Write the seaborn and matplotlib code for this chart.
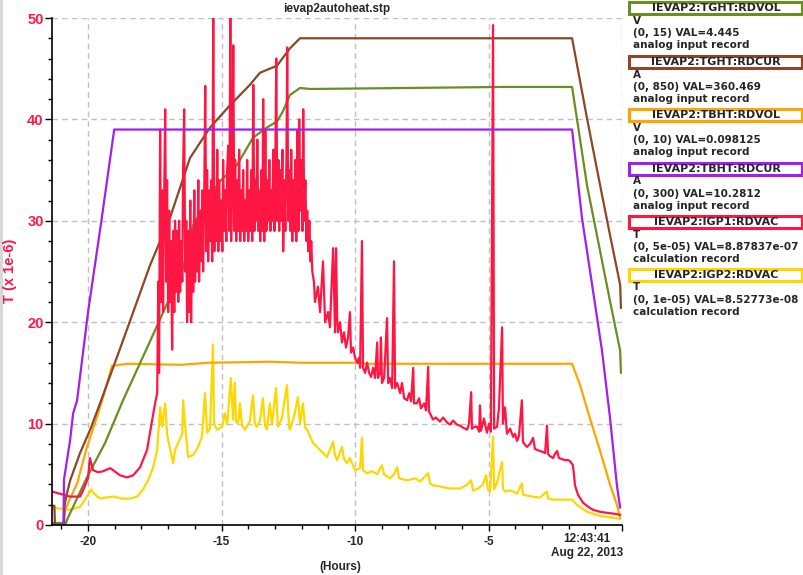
import numpy as np
import pandas as pd
import matplotlib
matplotlib.use("Agg")
import matplotlib.pyplot as plt
import seaborn as sns
from matplotlib.patches import Rectangle
from matplotlib.ticker import MultipleLocator

# all traces are drawn on the T (x 1e-6) axis, i.e. each one scaled to its own range -> 0..50
# time in hours before 12:43:41

tght_vol_t = [-21.35, -20.82, -20.79, -20.04, -19.36, -18.69, -17.68, -16.44, -16.06, -15.43,
              -15.06, -14.42, -13.82, -13.30, -12.92, -12.70, -12.44, -12.06, -11.69, -8.0,
              -4.5, -1.87, -1.31, -0.82, -0.45, -0.07, -0.04]
tght_vol_v = [0.2, 0.2, 0.5, 4.7, 8.1, 12.3, 18.1, 25.3, 29.6, 32.5,
              33.9, 35.5, 38.2, 39.2, 39.8, 40.8, 42.4, 43.1, 43.0, 43.1,
              43.2, 43.2, 33.5, 27.0, 22.1, 17.2, 15.0]

tght_cur_t = [-21.35, -21.26, -21.24, -20.90, -20.88, -20.82, -20.67, -20.30, -19.92, -19.55,
              -18.80, -17.68, -16.93, -16.18, -15.43, -14.68, -13.94, -13.56, -12.92, -12.44,
              -12.06, -1.87, -1.31, -0.82, -0.45, -0.07, -0.04]
tght_cur_v = [1.9, 1.9, 0.0, 0.0, 1.9, 2.8, 4.4, 7.1, 9.4, 12.0,
              17.4, 25.6, 30.3, 36.2, 39.2, 41.4, 43.4, 44.6, 45.3, 47.0,
              48.0, 48.0, 40.1, 33.5, 28.6, 23.7, 21.4]

tbht_vol_t = [-21.35, -20.94, -20.86, -20.41, -20.04, -19.66, -19.47, -19.10, -18.5, -16.5,
              -15.5, -13.2, -12.0, -10.0, -9.6, -1.87, -1.57, -1.20, -0.82, -0.45,
              -0.19, -0.07]
tbht_vol_v = [0.0, 0.0, 1.5, 4.1, 7.7, 10.7, 12.3, 15.7, 15.9, 15.8,
              16.0, 16.1, 16.0, 16.0, 15.9, 15.9, 13.8, 10.5, 7.3, 4.0,
              2.0, 0.7]

tbht_cur_t = [-21.35, -20.92, -20.90, -20.67, -20.56, -20.41, -20.0, -19.5, -19.02, -1.87,
              -1.50, -1.12, -0.75, -0.45, -0.19, -0.07]
tbht_cur_v = [0.0, 0.0, 4.5, 8.4, 11.0, 12.3, 21.0, 30.0, 39.0, 39.0,
              30.3, 23.7, 17.2, 10.6, 3.9, 1.7]

igp1_t = [-21.35, -20.94, -20.67, -20.30, -20.19, -20.00, -19.93, -19.81, -19.62, -19.44,
          -19.17, -19.06, -18.80, -18.54, -18.31, -18.05, -17.79, -17.68, -17.56, -17.49,
          -17.41, -17.37, -17.34, -17.30, -17.26, -17.22, -17.19, -17.15, -17.11, -17.07,
          -17.04, -17.00, -16.96, -16.92, -16.89, -16.85, -16.81, -16.77, -16.74, -16.70,
          -16.66, -16.62, -16.59, -16.55, -16.51, -16.47, -16.44, -16.40, -16.36, -16.32,
          -16.29, -16.25, -16.21, -16.17, -16.14, -16.10, -16.06, -16.02, -15.99, -15.95,
          -15.91, -15.87, -15.84, -15.80, -15.76, -15.72, -15.69, -15.65, -15.61, -15.57,
          -15.54, -15.50, -15.46, -15.42, -15.39, -15.35, -15.31, -15.27, -15.24, -15.20,
          -15.16, -15.12, -15.09, -15.05, -15.01, -14.97, -14.94, -14.90, -14.86, -14.82,
          -14.79, -14.75, -14.71, -14.67, -14.64, -14.60, -14.56, -14.52, -14.49, -14.45,
          -14.41, -14.37, -14.34, -14.30, -14.26, -14.22, -14.19, -14.15, -14.11, -14.07,
          -14.04, -14.00, -13.96, -13.92, -13.89, -13.85, -13.81, -13.77, -13.74, -13.70,
          -13.66, -13.62, -13.59, -13.55, -13.51, -13.47, -13.44, -13.40, -13.36, -13.32,
          -13.29, -13.25, -13.21, -13.17, -13.14, -13.10, -13.06, -13.02, -12.99, -12.95,
          -12.91, -12.87, -12.84, -12.80, -12.76, -12.72, -12.69, -12.65, -12.61, -12.57,
          -12.54, -12.50, -12.46, -12.42, -12.39, -12.35, -12.31, -12.27, -12.24, -12.20,
          -12.16, -12.12, -12.09, -12.05, -12.01, -11.97, -11.94, -11.90, -11.86, -11.82,
          -11.79, -11.75, -11.71, -11.67, -11.64, -11.60,
          -11.54, -11.50, -11.39, -11.31, -11.20, -11.12, -11.01, -10.94, -10.82,
          -10.75, -10.71, -10.67, -10.64, -10.56, -10.49, -10.41, -10.34, -10.26, -10.19,
          -10.15, -10.07, -10.00, -9.92, -9.85, -9.81, -9.74, -9.70, -9.62, -9.55,
          -9.47, -9.40, -9.32, -9.25, -9.17, -9.14, -9.06, -9.03, -8.99, -8.91,
          -8.80, -8.76, -8.69, -8.61, -8.54, -8.50, -8.42, -8.31, -8.24, -8.16,
          -8.05, -7.97, -7.90, -7.82, -7.79, -7.68, -7.60, -7.53, -7.41, -7.34,
          -7.26, -7.23, -7.15, -7.08, -6.97, -6.82, -6.70, -6.55, -6.44, -6.33,
          -6.18, -6.07, -5.95, -5.80, -5.73, -5.65, -5.62, -5.50, -5.43, -5.35,
          -5.32, -5.28, -5.17, -5.06, -4.98, -4.91, -4.83, -4.79, -4.68, -4.61,
          -4.49, -4.46, -4.38, -4.31, -4.19, -4.08, -4.01, -3.93, -3.86, -3.75,
          -3.71, -3.63, -3.56, -3.44, -3.33, -3.26, -3.18, -3.07, -2.96, -2.88,
          -2.81, -2.77, -2.70, -2.58, -2.51, -2.43, -2.36, -2.25, -2.13, -2.02,
          -1.95, -1.84, -1.80, -1.76, -1.65, -1.46, -1.27, -1.09, -0.82, -0.56,
          -0.26, -0.07]
igp1_v = [3.3, 3.0, 2.8, 2.8, 3.4, 4.6, 6.6, 5.4, 5.2, 5.3,
          5.6, 5.4, 4.9, 4.7, 4.9, 5.7, 7.4, 9.1, 11.0, 12.0,
          13.0, 24.0, 15.0, 39.0, 22.0, 33.0, 21.0, 32.0, 41.0, 24.0,
          34.0, 21.0, 31.0, 22.0, 28.0, 17.3, 29.0, 21.0, 30.0, 23.0,
          29.0, 22.0, 30.0, 23.0, 28.0, 24.0, 35.0, 41.0, 25.0, 30.0,
          20.0, 29.0, 21.0, 32.0, 20.0, 29.0, 23.0, 33.0, 24.0, 30.0,
          25.0, 34.0, 24.0, 31.0, 26.0, 33.0, 25.0, 32.0, 43.3, 27.0,
          35.0, 26.0, 33.0, 28.0, 34.0, 26.0, 50.0, 27.0, 33.0, 28.0,
          37.0, 27.0, 34.0, 28.0, 32.0, 27.0, 36.0, 29.0, 33.0, 28.0,
          35.0, 37.4, 29.0, 50.0, 28.0, 34.0, 47.3, 29.0, 36.0, 28.0,
          34.0, 29.0, 37.0, 28.0, 33.0, 29.0, 35.0, 28.0, 32.0, 29.0,
          36.0, 28.0, 33.0, 29.0, 35.0, 28.0, 43.4, 29.0, 34.0, 30.0,
          38.0, 29.0, 33.0, 28.0, 35.0, 29.0, 42.0, 28.0, 38.9, 29.0,
          34.0, 30.0, 36.0, 29.0, 33.0, 30.0, 37.0, 29.0, 34.0, 46.0,
          30.0, 36.0, 29.0, 35.0, 30.0, 37.0, 27.0, 34.0, 29.0, 36.0,
          47.1, 30.0, 35.0, 29.0, 37.0, 28.0, 34.0, 29.0, 36.0, 28.0,
          38.9, 29.0, 40.0, 31.0, 36.0, 29.0, 41.0, 30.0, 34.0, 28.0,
          31.0, 27.0, 30.0, 26.0, 28.0, 25.0,
          24.0, 22.0, 23.5, 21.0, 26.0, 20.0, 21.0, 19.5, 27.3,
          19.0, 27.3, 20.5, 19.0, 20.0, 18.0, 19.0, 17.5, 18.5, 21.0,
          17.0, 17.5, 16.5, 16.0, 16.5, 15.5, 28.0, 15.5, 15.0, 16.0,
          15.0, 14.6, 15.5, 14.5, 18.0, 14.5, 15.0, 18.5, 14.0, 14.5,
          20.4, 14.0, 14.5, 13.5, 26.0, 13.5, 14.0, 13.0, 14.0, 12.5,
          12.3, 13.0, 12.2, 15.5, 12.0, 12.0, 12.5, 11.5, 12.0, 11.3,
          15.6, 11.2, 10.8, 10.4, 10.6, 10.2, 10.6, 10.1, 9.9, 10.3,
          9.9, 9.8, 9.6, 9.4, 10.0, 13.1, 9.5, 9.7, 9.7, 9.2,
          11.8, 9.3, 10.5, 9.1, 10.0, 9.2, 49.3, 9.5, 9.7, 11.5,
          19.5, 10.0, 11.6, 9.0, 9.5, 8.7, 9.0, 8.3, 8.8, 12.3,
          8.2, 7.9, 7.7, 8.0, 8.6, 7.5, 7.4, 7.3, 7.2, 7.1,
          9.8, 7.0, 6.8, 6.6, 7.0, 7.3, 6.6, 6.5, 6.4, 6.4,
          6.3, 5.9, 5.0, 3.9, 3.0, 2.2, 1.8, 1.5, 1.3, 1.2,
          1.1, 1.0]

igp2_t = [-21.35, -20.67, -20.30, -20.19, -20.00, -19.89, -19.74, -19.55, -19.36, -19.06,
          -18.73, -18.43, -18.16, -17.94, -17.75, -17.56, -17.41, -17.30, -17.23, -17.11,
          -17.04, -17.00, -16.81, -16.74, -16.62, -16.47, -16.44, -16.36, -16.25, -16.06,
          -15.88, -15.73, -15.62, -15.54, -15.43, -15.32, -15.28, -15.17, -14.98, -14.87,
          -14.79, -14.65, -14.57, -14.50, -14.46, -14.38, -14.31, -14.23, -14.12, -13.94,
          -13.82, -13.75, -13.67, -13.56, -13.45, -13.37, -13.30, -13.19, -13.11, -12.96,
          -12.89, -12.74, -12.55, -12.47, -12.44, -12.29, -12.14, -12.06, -11.95, -11.87,
          -11.80, -11.57, -11.31, -11.05, -10.82, -10.75, -10.67, -10.49, -10.41, -10.30,
          -10.19, -10.00, -9.81, -9.74, -9.70, -9.55, -9.36, -9.17, -9.06, -8.99,
          -8.91, -8.69, -8.54, -8.42, -8.35, -8.05, -7.75, -7.56, -7.26, -7.19,
          -7.08, -6.82, -6.44, -6.07, -5.84, -5.65, -5.58, -5.39, -5.21, -5.09,
          -5.02, -4.94, -4.83, -4.79, -4.68, -4.57, -4.49, -4.46, -4.38, -4.19,
          -4.08, -3.93, -3.75, -3.71, -3.56, -3.33, -3.07, -2.81, -2.77, -2.58,
          -2.32, -1.87, -1.69, -1.31, -0.82, -0.07]
igp2_v = [1.7, 1.5, 1.8, 2.2, 3.0, 3.5, 3.0, 2.6, 2.7, 2.8,
          2.6, 2.6, 2.8, 3.5, 4.4, 5.7, 7.4, 11.6, 9.7, 12.0,
          9.0, 8.4, 6.1, 7.4, 8.1, 9.0, 12.3, 9.7, 6.7, 6.9,
          7.7, 8.7, 13.0, 9.1, 9.5, 17.8, 10.0, 9.4, 9.7, 11.0,
          9.9, 14.5, 10.4, 14.0, 10.2, 10.0, 12.0, 9.8, 9.4, 10.2,
          12.8, 9.9, 9.7, 10.3, 12.5, 9.8, 9.4, 12.0, 9.9, 13.5,
          9.7, 10.5, 13.8, 9.6, 9.4, 10.6, 12.6, 10.0, 12.0, 9.6,
          9.4, 8.1, 7.4, 6.7, 8.2, 6.9, 6.4, 7.7, 6.5, 6.1,
          6.6, 5.4, 5.6, 8.6, 5.4, 5.1, 5.3, 5.0, 5.6, 5.9,
          5.0, 4.6, 5.0, 5.7, 4.6, 4.4, 4.6, 4.3, 5.1, 4.1,
          3.9, 3.8, 3.6, 3.6, 3.9, 4.4, 3.4, 3.6, 4.0, 4.9,
          3.5, 3.3, 8.7, 3.5, 4.2, 5.4, 6.2, 3.6, 3.3, 3.4,
          3.3, 3.1, 4.1, 3.0, 2.9, 2.8, 2.7, 3.3, 2.6, 2.5,
          2.5, 2.5, 2.0, 1.3, 0.9, 0.6]

pv_names = ["IEVAP2:TGHT:RDVOL", "IEVAP2:TGHT:RDCUR", "IEVAP2:TBHT:RDVOL",
            "IEVAP2:TBHT:RDCUR", "IEVAP2:IGP1:RDVAC", "IEVAP2:IGP2:RDVAC"]
pv_units = ["V", "A", "V", "A", "T", "T"]
pv_ranges = ["(0, 15)", "(0, 850)", "(0, 10)", "(0, 300)", "(0, 5e-05)", "(0, 1e-05)"]
pv_vals = ["4.445", "360.469", "0.098125", "10.2812", "8.87837e-07", "8.52773e-08"]
pv_kinds = ["analog input record", "analog input record", "analog input record",
            "analog input record", "calculation record", "calculation record"]
pv_colors = ["#6b8e23", "#8b4726", "#ffa500", "#a020f0", "#ff1744", "#ffd700"]

x_ticklabels = ["-20", "-15", "-10", "-5"]

sns.set_theme(style="white")
plt.rcParams["font.family"] = ["Liberation Sans", "DejaVu Sans"]
plt.rcParams["font.weight"] = "bold"

frames = []
for name, t, v in zip(pv_names,
                      [tght_vol_t, tght_cur_t, tbht_vol_t, tbht_cur_t, igp1_t, igp2_t],
                      [tght_vol_v, tght_cur_v, tbht_vol_v, tbht_cur_v, igp1_v, igp2_v]):
    frames.append(pd.DataFrame({"hours": t, "value": v, "pv": name}))
df = pd.concat(frames, ignore_index=True)

W, H = 804, 575
fig = plt.figure(figsize=(W / 100, H / 100), dpi=100)
fig.patch.set_facecolor("white")
ax = fig.add_axes([52 / W, 1 - 525 / H, 570 / W, 507 / H])

ax.xaxis.set_major_locator(MultipleLocator(5))
ax.xaxis.set_minor_locator(MultipleLocator(1))
ax.yaxis.set_major_locator(MultipleLocator(10))
ax.yaxis.set_minor_locator(MultipleLocator(2))
ax.grid(True, which="major", color="#c0c0c0", linestyle=(0, (4, 3)), linewidth=1)
ax.set_axisbelow(True)

# draw order (bottom -> top)
pal = dict(zip(pv_names, pv_colors))
order = ["IEVAP2:IGP2:RDVAC", "IEVAP2:TBHT:RDVOL", "IEVAP2:TGHT:RDVOL",
         "IEVAP2:TGHT:RDCUR", "IEVAP2:IGP1:RDVAC", "IEVAP2:TBHT:RDCUR"]
for name in order:
    sns.lineplot(data=df[df.pv == name], x="hours", y="value", color=pal[name],
                 estimator=None, sort=False, linewidth=1.6, ax=ax, legend=False)

ax.set_xlim(-21.35, 0)
ax.set_ylim(0, 50)
ax.set_xticks([-20, -15, -10, -5, 0])
ax.set_xticklabels(x_ticklabels + [""])
for sp in ["top", "right"]:
    ax.spines[sp].set_visible(False)
for sp in ["left", "bottom"]:
    ax.spines[sp].set_color("black")
    ax.spines[sp].set_linewidth(1.2)

ax.tick_params(axis="x", which="major", direction="out", length=4, width=1, color="black",
               labelsize=8.5, pad=4, bottom=True)
ax.tick_params(axis="x", which="minor", direction="out", length=3, width=1, color="black", bottom=True)
ax.tick_params(axis="y", which="major", direction="out", length=5, width=1, color="black",
               labelsize=10.5, labelcolor="#ff1744", pad=1, left=True)
ax.tick_params(axis="y", which="minor", direction="out", length=3, width=1, color="black", left=True)
for lab in ax.get_xticklabels() + ax.get_yticklabels():
    lab.set_fontweight("bold")

ax.set_xlabel("")
ax.set_ylabel("")
fig.text(10 / W, 1 - 271 / H, "T (x 1e-6)", rotation=90, color="#ff1744", fontsize=10.5,
         fontweight="bold", ha="center", va="center")
fig.text(340 / W, 1 - 567 / H, "(Hours)", fontsize=8.5, fontweight="bold",
         ha="center", va="center")
fig.text(337 / W, 1 - 9 / H, "ievap2autoheat.stp", fontsize=8.5, fontweight="bold",
         ha="center", va="center")
fig.text(611 / W, 1 - 539 / H, "12:43:41", fontsize=8.5, fontweight="bold",
         ha="right", va="center")
fig.text(623 / W, 1 - 553 / H, "Aug 22, 2013", fontsize=8.5, fontweight="bold",
         ha="right", va="center")

# window edge on the left
fig.patches.append(Rectangle((0, 0), 3 / W, 1, transform=fig.transFigure,
                             facecolor="#d8d8d8", edgecolor="none"))

# legend panel on the right
box_tops = [1, 55, 108, 162, 215, 268]
for i in range(len(pv_names)):
    top = box_tops[i]
    fig.patches.append(Rectangle((629 / W, 1 - (top + 13) / H), 173 / W, 12 / H,
                                 transform=fig.transFigure, facecolor="white",
                                 edgecolor=pv_colors[i], linewidth=2.2))
    fig.text(716 / W, 1 - (top + 7) / H, pv_names[i], fontsize=8, family="DejaVu Sans",
             fontweight="bold", ha="center", va="center")
    lines = [pv_units[i], pv_ranges[i] + " VAL=" + pv_vals[i], pv_kinds[i]]
    for j, s in enumerate(lines):
        fig.text(633 / W, 1 - (top + 19.5 + 12.3 * j) / H, s, fontsize=7.5, family="DejaVu Sans",
                 fontweight="bold", ha="left", va="center")

fig.savefig("out.png", dpi=100)
